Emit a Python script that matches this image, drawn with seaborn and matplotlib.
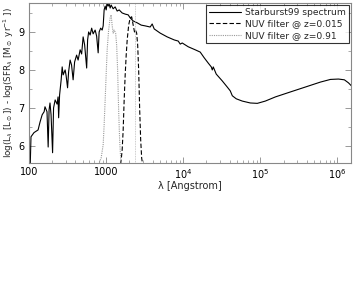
import numpy as np
import matplotlib
matplotlib.use("Agg")
import matplotlib.pyplot as plt
import matplotlib.ticker as mticker
import seaborn as sns

# --- data ---
# Starburst99 spectrum: wavelength [Angstrom], log(L_lambda) - log(SFR)
sb99_wave = [103, 106, 116, 131, 139, 148, 157, 161, 171, 177, 182, 187, 193, 202, 208,
             218, 231, 238, 242, 249, 261, 269, 277, 294, 303, 316, 326, 341, 356, 373,
             390, 414, 433, 460, 481, 503, 526, 559, 575, 593, 620, 649, 678, 720, 753,
             788, 811, 849, 888, 915, 942, 971, 1000, 1031, 1062, 1094, 1127, 1161, 1233,
             1309, 1390, 1476, 1614, 1766, 1931, 2051, 2243, 2529, 2851, 3208, 3725, 3956,
             4200, 5020, 6190, 7640, 8610, 9140, 9700, 11600, 14300, 16600, 18700, 21100,
             23100, 23800, 24500, 26800, 32100, 37200, 40700, 43300, 48700, 58300, 74100,
             91400, 116000, 157000, 245000, 384000, 601000, 811000, 1.03e6, 1.23e6,
             1.39e6, 1.57e6]
sb99_lum = [5.3, 6.24, 6.35, 6.42, 6.63, 6.82, 6.9, 7.03, 6.9, 5.97, 6.95, 7.13, 6.82, 5.82,
            7.0, 7.21, 7.1, 7.29, 6.74, 7.34, 7.74, 8.08, 7.87, 8.0, 7.84, 7.53, 7.95, 8.26,
            8.13, 7.74, 8.21, 8.39, 8.26, 8.53, 8.42, 8.87, 8.66, 8.05, 8.79, 9.0, 8.92, 9.1,
            8.95, 9.05, 8.89, 8.45, 9.0, 9.1, 9.05, 9.16, 9.58, 9.68, 9.58, 9.76, 9.68, 9.74,
            9.63, 9.71, 9.61, 9.66, 9.55, 9.58, 9.5, 9.47, 9.45, 9.37, 9.29, 9.24, 9.18, 9.16,
            9.13, 9.21, 9.08, 8.97, 8.87, 8.79, 8.76, 8.68, 8.71, 8.61, 8.53, 8.47, 8.32, 8.18,
            8.08, 8.0, 8.08, 7.89, 7.71, 7.55, 7.45, 7.32, 7.24, 7.18, 7.13, 7.12, 7.18, 7.29,
            7.42, 7.55, 7.68, 7.75, 7.76, 7.74, 7.66, 7.55]

# NUV filter curve (scaled) at z=0.015
nuv_low_wave = [1400, 1567, 1614, 1663, 1713, 1766, 1820, 1875, 1960, 2051, 2143, 2243,
                2333, 2400, 2488, 2564, 2641, 2723, 2805, 2890, 3026]
nuv_low_val = [5.0, 5.63, 5.9, 6.42, 7.21, 7.87, 8.39, 8.79, 9.18, 9.37, 9.4, 9.18,
               9.0, 9.05, 8.97, 8.66, 8.0, 6.95, 6.16, 5.68, 5.4]

# NUV filter curve (scaled) at z=0.91
nuv_high_wave = [764, 811, 861, 915, 942, 971, 1000, 1031, 1077, 1127, 1161, 1196, 1233,
                 1270, 1328, 1368, 1409, 1452, 1496, 1542, 1614]
nuv_high_val = [5.4, 5.55, 5.68, 6.03, 6.55, 7.21, 7.87, 8.53, 9.05, 9.37, 9.45, 9.18,
                8.97, 9.05, 8.97, 8.66, 8.0, 6.95, 6.16, 5.68, 5.4]

marker_wave = 2380

xtick_vals = [100, 1000, 1e4, 1e5, 1e6]
xtick_labels = ["100", "1000", "$10^4$", "$10^5$", "$10^6$"]
ytick_vals = [6, 7, 8, 9]

sns.set_style("ticks")
plt.rcParams["font.family"] = ["DejaVu Sans"]

fig = plt.figure(figsize=(3.63, 2.81), dpi=100)
ax = fig.add_axes([0.08, 0.42, 0.887, 0.569])

sns.lineplot(x=sb99_wave, y=sb99_lum, ax=ax, color="black", lw=0.8, sort=False,
             estimator=None, label="Starburst99 spectrum")
sns.lineplot(x=nuv_low_wave, y=nuv_low_val, ax=ax, color="black", lw=0.8, sort=False,
             estimator=None, linestyle=(0, (4, 2)), label="NUV filter @ z=0.015")
sns.lineplot(x=nuv_high_wave, y=nuv_high_val, ax=ax, color="#999999", lw=0.8, sort=False,
             estimator=None, linestyle=(0, (1, 1)), label="NUV filter @ z=0.91")
ax.axvline(marker_wave, color="#bbbbbb", lw=0.6, linestyle=(0, (1, 1)))

ax.set_xscale("log")
ax.set_xlim(100, 1.5e6)
ax.set_ylim(5.55, 9.76)
ax.xaxis.set_major_locator(mticker.FixedLocator(xtick_vals))
ax.xaxis.set_major_formatter(mticker.FixedFormatter(xtick_labels))
ax.xaxis.set_minor_locator(mticker.LogLocator(base=10, subs=np.arange(2, 10)))
ax.xaxis.set_minor_formatter(mticker.NullFormatter())
ax.yaxis.set_major_locator(mticker.FixedLocator(ytick_vals))
ax.yaxis.set_minor_locator(mticker.MultipleLocator(0.5))

ax.tick_params(which="both", direction="in", top=True, right=True, colors="#888888",
               labelcolor="black", labelsize=7, pad=3)
ax.tick_params(which="major", length=4, width=0.6)
ax.tick_params(which="minor", length=2, width=0.5)
for s in ax.spines.values():
    s.set_color("#888888")
    s.set_linewidth(0.8)

ax.set_xlabel("λ [Angstrom]", fontsize=7, labelpad=0)
ax.set_ylabel(r"log(L$_\lambda$ [L$_\odot$]) - log(SFR$_\lambda$ [M$_\odot$ yr$^{-1}$ ])",
              fontsize=6.3, labelpad=2)

leg = ax.legend(loc="upper right", fontsize=6.6, frameon=True, fancybox=False,
                handlelength=3.4, borderaxespad=0.2, labelspacing=0.25,
                borderpad=0.35, handletextpad=0.5)
leg.get_frame().set_edgecolor("black")
leg.get_frame().set_linewidth(0.8)

fig.savefig("out.png", dpi=100)
